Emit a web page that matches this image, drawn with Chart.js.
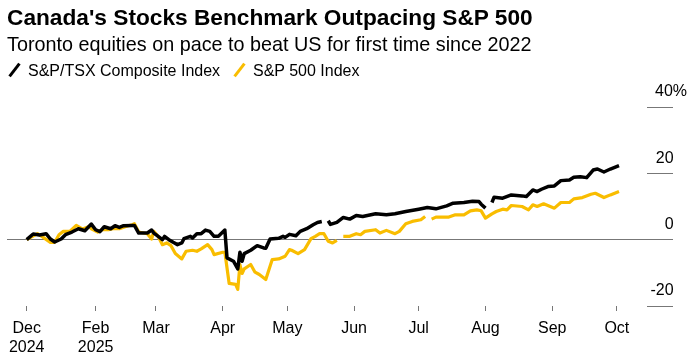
<!DOCTYPE html>
<html>
<head>
<meta charset="utf-8">
<script src="https://cdn.jsdelivr.net/npm/chart.js@4.4.1/dist/chart.umd.min.js"></script>
<style>
  body { margin: 0; background: #fff; }
  #wrap { position: relative; width: 693px; height: 359px; font-family: "Liberation Sans", Arial, sans-serif; color: #000; }
  #chart { position: absolute; left: 0; top: 0; }
  .txt { position: absolute; left: 7px; white-space: nowrap; line-height: 1; }
  .title { top: 6px; font-size: 22.7px; font-weight: bold; }
  .subtitle { top: 35px; font-size: 19.8px; }
  .leg { top: 63px; font-size: 16px; }
  .slash { position: absolute; top: -1px; width: 3px; height: 16px; transform: rotate(38deg); }
</style>
</head>
<body>
<div id="wrap">
  <canvas id="chart" width="693" height="359"></canvas>
  <div class="txt title">Canada's Stocks Benchmark Outpacing S&amp;P 500</div>
  <div class="txt subtitle">Toronto equities on pace to beat US for first time since 2022</div>
  <div class="txt leg" style="left:28px"><span class="slash" style="left:-15px;background:#000"></span>S&amp;P/TSX Composite Index</div>
  <div class="txt leg" style="left:253px"><span class="slash" style="left:-15px;background:#f9bd00"></span>S&amp;P 500 Index</div>
</div>
<script>
// days since Dec 31, 2024; null = market holiday gap
var tsxDays = [0,3,6,9,11,13,16,18,21,24,27,30,32,34,36,39,41,43,45,49,50,52,56,58,59,60,63,64,66,68,70,72,73,76,77,79,81,83,85,87,89,92,93,96,98,99,100,101,104,107,110,111,113,117,119,120,122,125,127,130,133,135,137,138,140,141,144,147,150,153,156,162,167,171,176,182,186,190,195,198,203,207,210,211,213,214,216,217,221,225,230,232,235,237,239,242,245,248,252,254,257,260,263,265,268,271,275];
var tsxValues = [0,1.7,1.4,1.8,0.2,-0.7,0.2,1.5,2.3,3.3,2.7,4.7,3.0,2.4,3.9,3.3,4.2,3.7,4.2,4.3,4.3,2.0,2.0,2.9,2.0,1.5,0.0,1.0,0.0,-0.8,-1.5,-1.0,0.3,1.0,0.5,1.8,1.8,2.9,2.5,1.0,1.0,2.9,-5.5,-6.5,-8.8,-3.8,-6.5,-4.2,-3.2,-1.8,-2.5,-2.6,0.2,0.4,1.0,0.7,1.6,1.2,2.5,3.3,4.5,5.2,5.5,null,5.7,4.6,5.2,6.7,6.2,7.3,7.0,7.8,7.5,7.8,8.5,9.2,9.7,9.3,10.2,11.0,11.2,11.6,11.5,10.7,9.5,null,11.2,12.8,12.5,13.5,13.2,13.0,15.0,14.5,15.2,16.0,16.2,17.8,18.0,18.8,19.0,18.7,21.0,21.3,20.4,21.3,22.3];

var spxDays = [0,5,7,11,13,15,17,20,23,26,29,30,33,35,38,40,43,46,49,50,52,56,58,59,61,63,65,67,69,72,74,77,79,81,84,86,87,91,92,94,97,98,99,100,101,104,106,108,111,114,117,120,122,123,126,129,132,134,136,138,140,142,144,145,147,150,153,155,157,162,164,167,171,173,176,179,183,185,186,188,190,196,199,203,206,209,211,213,216,218,221,223,225,230,233,235,237,240,245,248,252,254,258,262,264,268,271,275];
var spxValues = [0,1.8,1.0,-0.8,-0.8,1.5,2.5,2.5,4.3,3.2,4.0,3.3,2.3,3.0,3.0,3.3,3.3,4.0,4.5,4.8,2.3,1.8,0.2,2.5,1.0,-1.5,-1.0,-1.8,-4.2,-5.8,-3.5,-3.2,-3.5,-2.8,-1.5,-3.0,-4.5,-3.8,-3.8,-13.2,-13.5,-15.0,-7.5,-10.2,-8.8,-7.5,-9.8,-10.5,-12.0,-6.0,-5.8,-5.0,-3.0,-3.2,-4.2,-3.0,0.3,1.0,1.8,1.8,-0.5,-1.0,-0.2,null,1.0,1.0,1.8,1.5,2.5,3.0,2.0,2.8,1.8,2.5,4.8,5.5,6.0,7.0,null,6.2,6.8,6.8,7.5,7.5,8.7,9.0,8.7,6.5,7.8,8.5,9.2,9.0,10.3,10.0,9.0,10.5,10.0,10.8,9.5,11.2,11.2,12.3,12.7,13.7,14.0,12.7,13.5,14.5];

var tickDays = [0,32,60,91,121,152,182,213,244,274];
var tickLabels = [['Dec','2024'],['Feb','2025'],'Mar','Apr','May','Jun','Jul','Aug','Sep','Oct'];
var yTicks = [-20,0,20,40];

var FONT = '"Liberation Sans", Arial, sans-serif';

function toPoints(days, vals) {
  return days.map(function (d, i) { return {x: d, y: vals[i]}; });
}

var ctx = document.getElementById('chart').getContext('2d');
var chart = new Chart(ctx, {
  type: 'line',
  data: {
    datasets: [{
      label: 'S&P/TSX Composite Index',
      data: toPoints(tsxDays, tsxValues),
      borderColor: '#000',
      borderWidth: 3.5,
      pointRadius: 0,
      borderJoinStyle: 'round',
      spanGaps: false,
      tension: 0
    }, {
      label: 'S&P 500 Index',
      data: toPoints(spxDays, spxValues),
      borderColor: '#f9bd00',
      borderWidth: 3.2,
      pointRadius: 0,
      borderJoinStyle: 'round',
      spanGaps: false,
      tension: 0
    }]
  },
  options: {
    responsive: false,
    animation: false,
    devicePixelRatio: 1,
    layout: { padding: { left: 7, right: 6, top: 107, bottom: 0 } },
    plugins: {
      legend: { display: false },
      tooltip: { enabled: false }
    },
    scales: {
      x: {
        type: 'linear',
        min: -9.15,
        max: 288,
        afterBuildTicks: function (s) {
          s.ticks = tickDays.map(function (v) { return {value: v}; });
        },
        afterFit: function (s) { s.height = 53; s.paddingLeft = 0; s.paddingRight = 0; },
        border: { display: false },
        grid: { drawOnChartArea: false, tickLength: 5, color: '#777' },
        ticks: {
          autoSkip: false,
          maxRotation: 0,
          padding: 8,
          color: '#000',
          font: { family: FONT, size: 16, lineHeight: 1.2 },
          callback: function (v, i) { return tickLabels[i]; }
        }
      },
      y: {
        position: 'right',
        min: -20,
        max: 40,
        afterBuildTicks: function (s) {
          s.ticks = yTicks.map(function (v) { return {value: v}; });
        },
        afterFit: function (s) { s.width = 40; s.paddingTop = 0; s.paddingBottom = 0; },
        border: { display: false },
        grid: {
          tickLength: 26,
          tickColor: '#777',
          color: function (c) { return c.tick && c.tick.value === 0 ? '#777' : 'rgba(0,0,0,0)'; }
        },
        ticks: {
          crossAlign: 'far',
          padding: 0,
          labelOffset: -15,
          color: '#000',
          font: { family: FONT, size: 16 },
          callback: function (v) { return v === 40 ? '40%' : v + '   '; }
        }
      }
    }
  }
});
</script>
</body>
</html>
